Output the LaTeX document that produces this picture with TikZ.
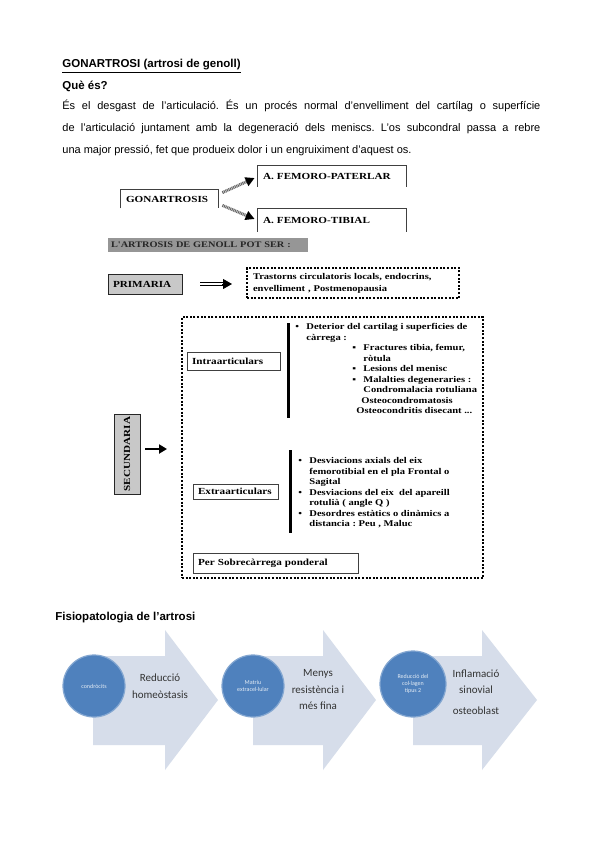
\documentclass[tikz,border=0pt]{standalone}
\usepackage{fontspec}
\setmainfont{Liberation Sans}
\newfontfamily\timesf[FakeStretch=1.2]{Liberation Serif}
\newfontfamily\calibrif{Carlito}
\usetikzlibrary{arrows.meta, positioning, calc}

\definecolor{chevron}{RGB}{214,221,234}
\definecolor{discblue}{RGB}{79,129,189}
\definecolor{bargrey}{RGB}{150,150,150}
\definecolor{boxgrey}{RGB}{200,200,200}

\newcommand{\bitem}{\makebox[11pt][l]{\textbullet}}
\newcommand{\sitem}{\hspace*{57pt}\makebox[11pt][l]{▪}}

\tikzset{
  diag/.style={font=\timesf\bfseries\fontsize{9.3}{11}\selectfont},
  listtext/.style={font=\timesf\bfseries\fontsize{8.8}{10.5}\selectfont, align=left, anchor=north west, inner sep=0pt},
  openbox/.style={diag, inner xsep=5pt, inner ysep=0pt, align=left},
  plainbox/.style={openbox, draw=black!75, line width=0.8pt},
  greybox/.style={plainbox, fill=boxgrey, draw=black!85},
  dotbox/.style={draw, line width=2pt, dash pattern=on 2pt off 1.6pt},
  hatcharrow/.style={-{Triangle[length=9pt,width=9pt,color=black]}, line width=3pt, black!60, dash pattern=on 1pt off 0.7pt},
  bigarrow/.style={-{Triangle[length=8pt,width=9pt]}, line width=2pt},
  stepcirc/.style={circle, fill=discblue, draw=discblue!70!white, line width=1.2pt, text=white!85!discblue, font=\calibrif\fontsize{6}{6.8}\selectfont, align=center, inner sep=0pt},
  arrowtext/.style={font=\calibrif\fontsize{11}{16.5}\selectfont, text=black!80, align=center}
}

\begin{document}
\frenchspacing
\begin{tikzpicture}[x=1pt, y=-1pt, >=Stealth, thick]
\useasboundingbox[fill=white] (0,0) rectangle (599,848);

% Text above the diagram
\node[anchor=base west, inner sep=0pt, font=\bfseries\fontsize{11.5}{13}\selectfont] (title) at (62,68) {\underline{GONARTROSI (artrosi de genoll)}};
\node[anchor=base west, inner sep=0pt, font=\bfseries\fontsize{11.5}{13}\selectfont] (what) at (62,90) {Què és?};
\node[anchor=base west, inner sep=0pt, text width=478pt, align=justify, font=\fontsize{11}{22}\selectfont] (para) at (62,110)
  {És el desgast de l'articulació. És un procés normal d'envelliment del cartílag o superfície\linebreak
   de l'articulació juntament amb la degeneració dels meniscs. L'os subcondral passa a rebre\linebreak
   una major pressió, fet que produeix dolor i un engruiximent d'aquest os.};

% Gonartrosis and its two types
\node[openbox, text width=87pt, minimum height=18pt] (gon) at (169.5,199) {GONARTROSIS};
\draw[line width=0.8pt, black!75] (gon.south west) -- (gon.north west) -- (gon.north east) -- (gon.south east);
\node[openbox, text width=138pt, minimum height=21pt] (pat) at (332,176) {A. FEMORO-PATERLAR};
\draw[line width=0.8pt, black!75] (pat.south west) -- (pat.north west) -- (pat.north east) -- (pat.south east);
\node[openbox, text width=138pt, minimum height=23pt] (tib) at (332,220) {A. FEMORO-TIBIAL};
\draw[line width=0.8pt, black!75] (tib.south west) -- (tib.north west) -- (tib.north east) -- (tib.south east);
\draw[hatcharrow] ($(gon.north east)+(4,3)$) -- ($(pat.west)+(-3,2)$);
\draw[hatcharrow] ($(gon.south east)+(4,-3)$) -- ($(tib.west)+(-3,-1)$);

% Primary
\node[font=\timesf\bfseries\fontsize{8.6}{10}\selectfont, fill=bargrey, text=black!85, text width=194pt, inner xsep=3pt, inner ysep=0pt, minimum height=14pt, align=left] (kinds) at (208,245) {L'ARTROSIS DE GENOLL POT SER :};
\node[greybox, text width=64pt, minimum height=20pt] (prim) at (145,284) {PRIMARIA};
\node[dotbox, font=\timesf\bfseries\fontsize{8.8}{12}\selectfont, text width=200pt, inner xsep=6pt, inner ysep=0pt, minimum height=30pt, align=left] (causes) at (353,283)
  {Trastorns circulatoris locals, endocrins,\\envelliment , Postmenopausia};
\draw[double, double distance=2.2pt, line width=0.8pt, shorten <=18pt, shorten >=22pt] (prim.east) -- (prim.east -| causes.west);
\draw[-{Triangle[length=9pt,width=10pt]}, line width=0.8pt, shorten <=40pt, shorten >=14pt] (prim.east) -- (prim.east -| causes.west);

% Secondary
\node[dotbox, minimum width=301pt, minimum height=261pt, inner sep=0pt] (secframe) at (332.5,447.5) {};
\node[greybox, inner xsep=0pt, minimum width=26pt, minimum height=80pt] (sec) at (127,454) {\rotatebox{90}{SECUNDARIA}};
\draw[bigarrow, shorten <=5pt, shorten >=14pt] ($(sec.east)+(0,-5)$) -- ($(secframe.west)+(0,1.5)$);

\node[plainbox, text width=83pt, minimum height=18pt] (intra) at (233.5,361) {Intraarticulars};
\draw[line width=3pt] (288,323) -- (288,418);
\node[listtext] (intralist) at (295,323)
  {\bitem Deterior del cartilag i superficies de\\
   \hspace*{11pt}càrrega :\\
   \sitem Fractures tibia, femur,\\
   \hspace*{68pt}ròtula\\
   \sitem Lesions del menisc\\
   \sitem Malalties degeneraries :\\
   \hspace*{68pt}Condromalacia rotuliana\\
   \hspace*{66pt}Osteocondromatosis\\
   \hspace*{61pt}Osteocondritis disecant ...};

\node[plainbox, text width=75pt, minimum height=15pt] (extra) at (235.5,491.5) {Extraarticulars};
\draw[line width=3pt] (290,450) -- (290,533);
\node[listtext] (extralist) at (298,457)
  {\bitem Desviacions axials del eix\\
   \hspace*{11pt}femorotibial en el pla Frontal o\\
   \hspace*{11pt}Sagital\\
   \bitem Desviacions del eix\ \ del apareill\\
   \hspace*{11pt}rotulià ( angle Q )\\
   \bitem Desordres estàtics o dinàmics a\\
   \hspace*{11pt}distancia : Peu , Maluc};

\node[plainbox, text width=155pt, minimum height=20pt] (load) at (275.5,563) {Per Sobrecàrrega ponderal};

% Physiopathology
\node[anchor=base west, inner sep=0pt, font=\bfseries\fontsize{11.5}{13}\selectfont] (fisio) at (55,620) {Fisiopatologia de l'artrosi};
\foreach \bx/\hx/\tx in {93/165/218, 253/323/376, 413/482/537}
  \fill[chevron] (\bx,656) -- (\hx,656) -- (\hx,630) -- (\tx,700) -- (\hx,770) -- (\hx,745) -- (\bx,745) -- cycle;

\node[stepcirc, minimum size=62pt] (c1) at (94,686) {condròcits};
\node[stepcirc, minimum size=62pt] (c2) at (253,686) {Matriu\\extracel·lular};
\node[stepcirc, minimum size=66pt] (c3) at (413,684) {Reducció del\\col·lagen\\tipus 2};

\node[arrowtext] (t1) at (160,686) {Reducció\\homeòstasis};
\node[arrowtext] (t2) at (318,690) {Menys\\resistència i\\més fina};
\node[arrowtext] (t3) at (476,692) {Inflamació\\sinovial\\[4pt]osteoblast};
\end{tikzpicture}
\end{document}
